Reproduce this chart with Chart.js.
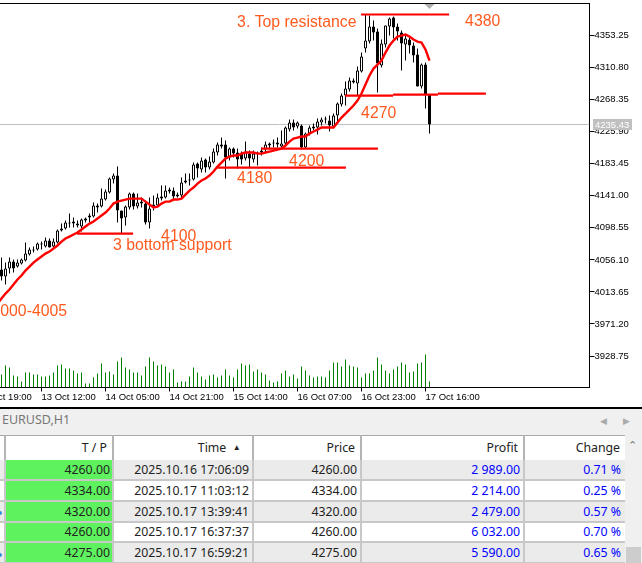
<!DOCTYPE html>
<html>
<head>
<meta charset="utf-8">
<script src="https://cdn.jsdelivr.net/npm/chart.js@4/dist/chart.umd.min.js"></script>
<style>
  html, body { margin: 0; padding: 0; background: #fff; }
  body { position: relative; width: 642px; height: 563px; overflow: hidden; font-family: "Noto Sans", sans-serif; }
  #chart { position: absolute; left: -31px; top: 0; }
  #tabbar { position: absolute; left: 0; top: 407px; width: 642px; height: 28px; background: #f0f0f0; border-top: 2px solid #000; box-sizing: border-box; }
  #tabbar .name { position: absolute; left: 2px; top: 1px; font-size: 12.5px; color: #777; line-height: 20px; }
  #tabbar .arrow { position: absolute; top: 5px; font-size: 9px; color: #aaa; line-height: 14px; }
  #grid { position: absolute; left: 0; top: 435px; width: 625px; border-collapse: collapse; table-layout: fixed; font-size: 12.3px; color: #222; }
  #grid th { height: 24px; padding: 0 5px 0 0; font-weight: normal; text-align: right; background: #fff; border-top: 1px solid #a8a8a8; border-right: 2px solid #b4b4b4; box-sizing: border-box; }
  #grid td { height: 20.7px; padding: 0 3px 0 0; text-align: right; border-bottom: 2px solid #c8c8c8; border-right: 2px solid #c8c8c8; box-sizing: border-box; white-space: nowrap; }
  #grid tr.alt td { background: #ebebeb; }
  #grid td.tp { background: #5ff25f !important; padding-right: 2px; }
  #grid td.gain { color: #0000ff; }
  #grid th:last-child, #grid td:last-child { border-right: 0; }
  #scroll { position: absolute; left: 625px; top: 435px; width: 17px; height: 128px; background: #f0f0f0; }
  #scroll .up { position: absolute; left: 3px; top: 2px; font-size: 11px; color: #777; }
  #scroll .thumb { position: absolute; left: 1px; top: 112px; width: 15px; height: 16px; background: #cdcdcd; }
  .dot { position: absolute; left: -2px; width: 4px; height: 4px; border-radius: 50%; background: #2f8fdc; }
</style>
</head>
<body>
<canvas id="chart" width="673" height="405" style="width:673px;height:405px"></canvas>
<div id="tabbar">
  <span class="name">EURUSD,H1</span>
  <span class="arrow" style="left:600px">&#9664;</span>
  <span class="arrow" style="left:623px">&#9654;</span>
</div>
<table id="grid">
  <colgroup><col style="width:5px"><col style="width:108px"><col style="width:140px"><col style="width:108px"><col style="width:163px"><col style="width:101px"></colgroup>
  <thead></thead><tbody></tbody>
</table>
<div class="dot" style="top:511px"></div>
<div class="dot" style="top:553px"></div>
<div id="scroll"><span class="up">&#8963;</span><div class="thumb"></div></div>
<script>
"use strict";
const opens = [4043.3,4034.0,4044.6,4053.9,4047.3,4051.3,4055.2,4063.2,4068.5,4069.8,4076.4,4073.8,4081.7,4073.8,4079.1,4095.0,4097.6,4104.2,4104.2,4104.2,4100.3,4108.2,4112.2,4113.5,4128.0,4126.7,4136.0,4145.3,4162.5,4167.8,4121.4,4112.2,4125.4,4144.0,4126.7,4133.3,4130.7,4105.6,4129.4,4128.0,4137.3,4138.7,4146.6,4147.9,4142.6,4141.3,4158.5,4161.2,4162.5,4183.7,4175.8,4189.0,4178.4,4185.0,4198.3,4208.9,4208.9,4191.6,4203.6,4198.3,4196.9,4190.3,4196.9,4189.0,4196.9,4198.3,4202.2,4207.5,4210.2,4211.5,4206.2,4210.2,4228.7,4238.0,4232.7,4234.0,4204.9,4223.4,4230.1,4231.4,4238.0,4242.0,4240.7,4232.7,4247.3,4261.9,4273.8,4281.7,4293.6,4289.7,4305.6,4336.0,4345.3,4365.2,4358.5,4313.5,4341.3,4365.2,4377.1,4365.2,4357.2,4341.3,4347.9,4340.0,4328.1,4285.7,4314.8,4275.1];
const closes = [4034.0,4044.6,4053.9,4044.6,4052.6,4056.6,4064.5,4069.8,4069.8,4077.7,4077.7,4081.7,4072.4,4080.4,4095.0,4097.6,4105.6,4105.6,4106.9,4101.6,4109.5,4110.9,4114.8,4128.0,4125.4,4137.3,4146.6,4163.8,4167.8,4121.4,4110.9,4126.7,4144.0,4126.7,4132.0,4130.7,4105.6,4124.1,4125.4,4138.7,4140.0,4147.9,4149.3,4140.0,4140.0,4158.5,4161.2,4162.5,4182.4,4177.1,4187.7,4178.4,4186.3,4199.6,4208.9,4206.2,4191.6,4203.6,4196.9,4189.0,4189.0,4199.6,4190.3,4196.9,4198.3,4200.9,4208.9,4210.2,4211.5,4208.9,4210.2,4231.4,4238.0,4231.4,4238.0,4204.9,4223.4,4231.4,4232.7,4239.3,4242.0,4243.3,4234.0,4247.3,4263.2,4273.8,4283.0,4293.6,4291.0,4306.9,4325.4,4346.6,4365.2,4357.2,4316.2,4342.6,4366.5,4375.8,4363.8,4358.5,4342.6,4349.3,4340.0,4326.8,4285.7,4314.8,4275.1,4235.4];
const highs = [4059.2,4052.6,4059.2,4056.6,4056.6,4057.9,4079.1,4072.4,4073.8,4079.1,4080.4,4085.7,4084.4,4084.4,4096.3,4104.2,4108.2,4117.5,4112.2,4108.2,4110.9,4112.2,4117.5,4132.0,4130.7,4150.6,4149.3,4165.2,4170.5,4179.7,4121.4,4128.0,4145.3,4145.3,4144.0,4138.7,4134.7,4138.7,4141.3,4144.0,4154.6,4154.6,4151.9,4151.9,4145.3,4165.2,4170.5,4170.5,4185.0,4185.0,4191.6,4190.3,4193.0,4203.6,4211.5,4218.1,4214.2,4204.9,4204.9,4203.6,4199.6,4212.8,4200.9,4200.9,4199.6,4204.9,4212.8,4211.5,4215.5,4218.1,4227.4,4232.7,4242.0,4242.0,4239.3,4235.4,4224.8,4234.0,4236.7,4243.3,4244.6,4246.0,4247.3,4249.9,4264.5,4276.4,4292.3,4297.6,4296.3,4312.2,4330.7,4381.1,4379.7,4373.1,4362.5,4347.9,4366.5,4377.1,4378.4,4369.1,4359.9,4353.2,4350.6,4344.0,4336.0,4316.2,4317.5,4275.1];
const lows = [4028.8,4023.4,4038.0,4039.3,4046.0,4049.9,4053.9,4061.9,4065.8,4068.5,4069.8,4072.4,4072.4,4072.4,4077.7,4093.6,4096.3,4098.9,4098.9,4098.9,4093.6,4105.6,4105.6,4112.2,4118.8,4125.4,4134.7,4144.0,4157.2,4105.6,4091.0,4101.6,4122.8,4122.8,4124.1,4125.4,4102.9,4097.6,4121.4,4126.7,4134.7,4137.3,4144.0,4134.7,4138.7,4138.7,4157.2,4154.6,4161.2,4165.2,4171.8,4171.8,4175.8,4183.7,4194.3,4203.6,4163.8,4187.7,4191.6,4177.1,4182.4,4187.7,4178.4,4185.0,4181.0,4194.3,4198.3,4203.6,4204.9,4204.9,4204.9,4206.2,4226.1,4227.4,4230.1,4203.6,4203.6,4220.8,4227.4,4222.1,4234.0,4236.7,4226.1,4231.4,4236.7,4259.2,4260.5,4279.1,4289.7,4273.8,4304.2,4330.7,4342.6,4346.6,4277.7,4310.9,4337.3,4353.2,4349.3,4346.6,4306.9,4320.1,4329.4,4317.5,4285.7,4283.0,4256.6,4223.4];
// moving average starts one bar before the first visible candle
const maValues = [3998.3,4004.9,4011.5,4016.8,4023.4,4030.1,4035.4,4042.0,4047.3,4052.6,4056.6,4060.5,4064.5,4067.1,4071.1,4075.1,4080.4,4084.4,4087.0,4089.7,4092.3,4096.3,4100.3,4104.2,4106.9,4110.9,4114.8,4118.8,4124.1,4130.7,4133.3,4134.7,4136.0,4137.3,4137.3,4137.3,4137.3,4133.3,4129.4,4125.4,4126.7,4130.7,4133.3,4133.3,4136.0,4136.0,4137.3,4142.6,4147.9,4151.9,4157.2,4161.2,4163.8,4167.8,4173.1,4179.7,4185.0,4190.3,4193.0,4194.3,4194.3,4196.9,4198.3,4198.3,4198.3,4196.9,4196.9,4198.3,4199.6,4200.9,4202.2,4203.6,4207.5,4212.8,4216.8,4218.1,4219.5,4219.5,4223.4,4226.1,4228.7,4231.4,4231.4,4231.4,4231.4,4238.0,4244.6,4249.9,4255.2,4260.5,4267.2,4276.4,4288.3,4300.3,4309.5,4314.8,4320.1,4330.7,4340.0,4346.6,4351.9,4353.2,4354.6,4351.9,4347.9,4345.3,4344.0,4334.7,4320.1];
const volumes = [13,22,20,12,11,6,15,15,13,13,11,11,12,15,22,23,19,19,17,14,15,4,4,10,14,24,15,16,13,26,30,20,18,15,15,12,21,30,26,22,23,21,15,18,5,6,6,11,20,15,11,8,12,13,10,12,18,12,10,18,24,22,23,16,18,15,13,7,5,6,14,17,11,13,9,21,17,12,10,11,11,10,17,25,25,21,28,22,21,20,10,14,14,17,30,23,17,14,18,21,25,23,15,16,24,25,33,6];

const yTickValues = [3928.75,3971.20,4013.65,4056.10,4098.55,4141.00,4183.45,4225.90,4268.35,4310.80,4353.25];
const xTickIndexes = [2,18,34,50,66,82,98,114];
const xTickLabels = ["10 Oct 19:00","13 Oct 12:00","14 Oct 05:00","14 Oct 21:00","15 Oct 14:00","16 Oct 07:00","16 Oct 23:00","17 Oct 16:00"];
const firstBar = 8;
const currentPrice = 4235.43;

// hand drawn levels: [from bar, to bar, price at start, price at end]
const levelLines = [
  [97.9,119.9,4381.1,4381.1],
  [93.9,105.9,4273.8,4273.8],
  [105.9,117.1,4275.1,4275.1],
  [117.1,129.1,4276.4,4276.4],
  [72.9,102.1,4203.6,4203.6],
  [61.9,94.1,4178.4,4178.4],
  [26.9,40.9,4091.0,4091.0],
];
const noteTexts = ["3. Top resistance","4380","4270","4200","4180","4100","3 bottom support","4000-4005"];
const noteBars = [66.9,123.9,97.9,79.9,66.9,47.9,35.9,5.5];
const notePrices = [4365.1,4366.5,4244.6,4181.0,4158.5,4081.7,4069.8,3982.4];

const tpValues = ["4260.00","4334.00","4320.00","4260.00","4275.00"];
const times = ["2025.10.16 17:06:09","2025.10.17 11:03:12","2025.10.17 13:39:41","2025.10.17 16:37:37","2025.10.17 16:59:21"];
const prices = ["4260.00","4334.00","4320.00","4260.00","4275.00"];
const profits = ["2 989.00","2 214.00","2 479.00","6 032.00","5 590.00"];
const changes = ["0.71 %","0.25 %","0.57 %","0.70 %","0.65 %"];

const grid = document.getElementById("grid");
grid.querySelector("thead").innerHTML =
  '<tr><th></th><th>T / P</th><th>Time &nbsp;<span style="font-size:8px;position:relative;top:-2px">&#9650;</span>&nbsp;&nbsp;</th><th>Price</th><th>Profit</th><th>Change</th></tr>';
grid.querySelector("tbody").innerHTML = times
  .map(
    (t, i) =>
      `<tr class="${i % 2 ? "" : "alt"}"><td></td><td class="tp">${tpValues[i]}</td><td>${t}</td><td>${prices[i]}</td><td class="gain">${profits[i]}</td><td class="gain" style="padding-right:4px">${changes[i]}</td></tr>`,
  )
  .join("");

const labelFont = { family: "'Liberation Sans'", size: 9.5 };

const overlay = {
  id: "overlay",
  afterDatasetsDraw(chart) {
    const ctx = chart.ctx,
      x = chart.scales.x,
      y = chart.scales.y;
    ctx.save();
    // frame line along the top edge
    ctx.fillStyle = "#000";
    ctx.fillRect(0, y.top - 0.5, x.right + 0.5, 1);
    ctx.fillStyle = "#ff5a1e";
    ctx.font = "15.8px 'Liberation Sans'";
    ctx.textAlign = "left";
    ctx.textBaseline = "alphabetic";
    noteTexts.forEach((t, i) => {
      ctx.fillText(t, x.getPixelForValue(noteBars[i]), y.getPixelForValue(notePrices[i]));
    });
    // current price tag on the axis
    const py = y.getPixelForValue(currentPrice);
    ctx.fillStyle = "#c0c0c0";
    ctx.fillRect(x.right + 3.5, py - 5.5, 39, 11);
    ctx.fillStyle = "#fff";
    ctx.font = "9.5px 'Liberation Sans'";
    ctx.textBaseline = "middle";
    ctx.fillText(currentPrice.toFixed(2), x.right + 5.5, py + 0.5);
    // last bar marker at the top edge
    const mx = x.getPixelForValue(firstBar + opens.length - 1);
    ctx.fillStyle = "#b0b0b0";
    ctx.beginPath();
    ctx.moveTo(mx - 5, y.top + 0.5);
    ctx.lineTo(mx + 5, y.top + 0.5);
    ctx.lineTo(mx, y.top + 5.5);
    ctx.closePath();
    ctx.fill();
    ctx.restore();
  },
};

const barBase = { type: "bar", grouped: false, barPercentage: 1, categoryPercentage: 1, inflateAmount: 0 };

new Chart(document.getElementById("chart"), {
  type: "bar",
  data: {
    datasets: [
      {
        type: "line",
        data: maValues.map((v, i) => ({ x: i + firstBar - 1, y: v })),
        borderColor: "#ff0000",
        borderWidth: 2.4,
        pointRadius: 0,
        tension: 0,
        order: 1,
      },
      ...levelLines.map((l) => ({
        type: "line",
        data: [
          { x: l[0], y: l[2] },
          { x: l[1], y: l[3] },
        ],
        borderColor: "#ff0000",
        borderWidth: 2.2,
        pointRadius: 0,
        order: 1,
        clip: false,
      })),
      {
        ...barBase,
        data: opens.map((o, i) => ({ x: i + firstBar, y: [o, closes[i]] })),
        backgroundColor: opens.map((o, i) => (closes[i] >= o ? "#ffffff" : "#000000")),
        borderColor: "#000000",
        borderWidth: 1,
        borderSkipped: false,
        maxBarThickness: 3,
        order: 2,
      },
      {
        ...barBase,
        data: lows.map((l, i) => ({ x: i + firstBar, y: [l, highs[i]] })),
        backgroundColor: "#000000",
        borderWidth: 0,
        maxBarThickness: 1,
        order: 3,
      },
      {
        ...barBase,
        yAxisID: "yVol",
        data: volumes.map((v, i) => ({ x: i + firstBar, y: v })),
        backgroundColor: "#008000",
        borderWidth: 0,
        maxBarThickness: 1,
        order: 4,
      },
      {
        type: "line",
        data: [
          { x: 0, y: currentPrice },
          { x: 155, y: currentPrice },
        ],
        borderColor: "#c0c0c0",
        borderWidth: 1,
        pointRadius: 0,
        order: 5,
      },
    ],
  },
  options: {
    responsive: false,
    animation: false,
    devicePixelRatio: 1,
    layout: { padding: { left: 0.5, top: 3.5, right: 0, bottom: 0 } },
    plugins: { legend: { display: false }, tooltip: { enabled: false } },
    events: [],
    scales: {
      x: {
        type: "linear",
        min: 0,
        max: 155,
        offset: false,
        grid: { offset: false, drawOnChartArea: false, tickLength: 4, color: "#000", tickColor: "#000" },
        border: { color: "#000", width: 1 },
        afterBuildTicks: (s) => {
          s.ticks = xTickIndexes.map((v) => ({ value: v }));
        },
        afterFit: (s) => {
          s.height = 17.5;
          s.paddingLeft = 0;
          s.paddingRight = 0;
        },
        ticks: {
          autoSkip: false,
          maxRotation: 0,
          align: "start",
          padding: 0,
          color: "#000",
          font: labelFont,
          callback: (v) => xTickLabels[xTickIndexes.indexOf(v)],
        },
      },
      y: {
        position: "right",
        min: 3887.09,
        max: 4395.69,
        grid: { drawOnChartArea: false, tickLength: 5, color: "#000", tickColor: "#000" },
        border: { color: "#000", width: 1 },
        afterBuildTicks: (s) => {
          s.ticks = yTickValues.map((v) => ({ value: v }));
        },
        afterFit: (s) => {
          s.width = 52.5;
          s.paddingTop = 0;
          s.paddingBottom = 0;
        },
        ticks: {
          autoSkip: false,
          padding: 0,
          color: "#000",
          font: labelFont,
          callback: (v) => v.toFixed(2),
        },
      },
      yVol: { display: false, min: 0, max: 384 },
    },
  },
  plugins: [overlay],
});
</script>
</body>
</html>
